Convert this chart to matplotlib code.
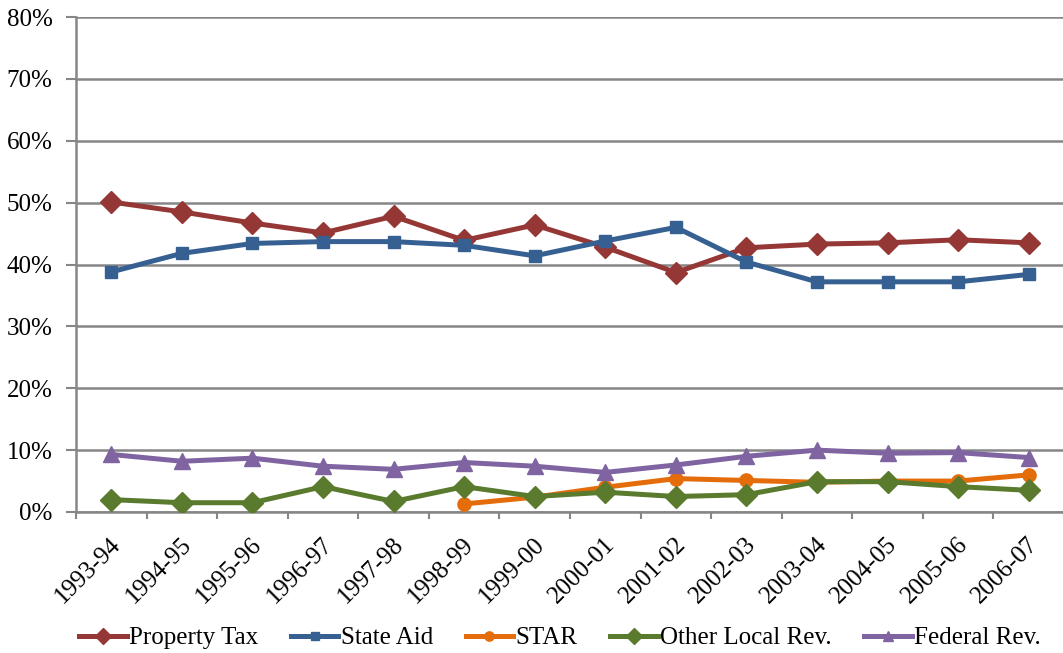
import numpy as np
import matplotlib
matplotlib.use('Agg')
import matplotlib.pyplot as plt
import matplotlib.transforms as mtransforms

# data (percent of total revenue)
years = ['1993-94', '1994-95', '1995-96', '1996-97', '1997-98', '1998-99', '1999-00',
         '2000-01', '2001-02', '2002-03', '2003-04', '2004-05', '2005-06', '2006-07']
property_tax = [50.1, 48.5, 46.7, 45.1, 47.8, 43.9, 46.4, 42.8, 38.7, 42.7, 43.3, 43.5, 44.0, 43.5]
state_aid = [38.8, 41.8, 43.4, 43.7, 43.7, 43.1, 41.4, 43.8, 46.0, 40.4, 37.2, 37.2, 37.2, 38.4]
star = [None, None, None, None, None, 1.3, 2.4, 4.0, 5.4, 5.1, 4.8, 5.0, 5.0, 6.0]
other_local = [2.0, 1.5, 1.5, 4.1, 1.7, 4.1, 2.5, 3.2, 2.5, 2.8, 4.9, 4.9, 4.1, 3.5]
federal = [9.3, 8.2, 8.7, 7.4, 6.9, 8.0, 7.4, 6.4, 7.6, 9.0, 10.0, 9.5, 9.6, 8.8]

plt.rcParams['font.family'] = ['Liberation Serif', 'DejaVu Serif']

fig = plt.figure(figsize=(10.63, 6.53), dpi=100)
ax = fig.add_axes([76 / 1063, 1 - 512 / 653, 988 / 1063, 495 / 653])

x = np.arange(len(years))
series = [
    ('Property Tax', property_tax, '#953735', 'D', 11),
    ('State Aid', state_aid, '#376092', 's', 9),
    ('STAR', star, '#E46C0A', 'o', 9.5),
    ('Other Local Rev.', other_local, '#5A7A2E', 'D', 11),
    ('Federal Rev.', federal, '#8064A2', '^', 11),
]
for name, vals, col, mk, ms in series:
    v = np.array([np.nan if a is None else a for a in vals], dtype=float)
    ax.plot(x, v, color=col, lw=3.6, marker=mk, ms=ms, label=name, zorder=3)

ax.set_xlim(-0.5, 13.5)
ax.set_ylim(0, 80)
ax.set_yticks(np.arange(0, 81, 10))
ax.set_yticklabels([f'{v}%' for v in range(0, 81, 10)], fontsize=18)
ax.yaxis.grid(True, color='#868686', lw=1.8)
ax.set_axisbelow(True)

ax.set_xticks(np.arange(-0.5, 14, 1))
ax.set_xticklabels([])
ax.set_xticks(x, minor=True)
ax.set_xticklabels(years, minor=True, rotation=45, ha='right', va='top', fontsize=18)
ax.tick_params(axis='x', which='minor', length=0, pad=15.5)
ax.tick_params(axis='x', which='major', length=5, color='#868686', width=1.5)
ax.tick_params(axis='y', length=7, color='#868686', width=1.5, pad=10)
offset = mtransforms.ScaledTranslation(14 / 100, 0, fig.dpi_scale_trans)
for lab in ax.get_xticklabels(minor=True):
    lab.set_transform(lab.get_transform() + offset)

for s in ['top', 'right']:
    ax.spines[s].set_visible(False)
for s in ['left', 'bottom']:
    ax.spines[s].set_color('#868686')
    ax.spines[s].set_linewidth(1.8)

ax.legend(loc='center', bbox_to_anchor=(0.49, -0.255), ncol=5, frameon=False,
          fontsize=18, handlelength=1.9, handletextpad=0.1, columnspacing=1.3,
          markerscale=0.7)

fig.savefig('out.png', dpi=100)
